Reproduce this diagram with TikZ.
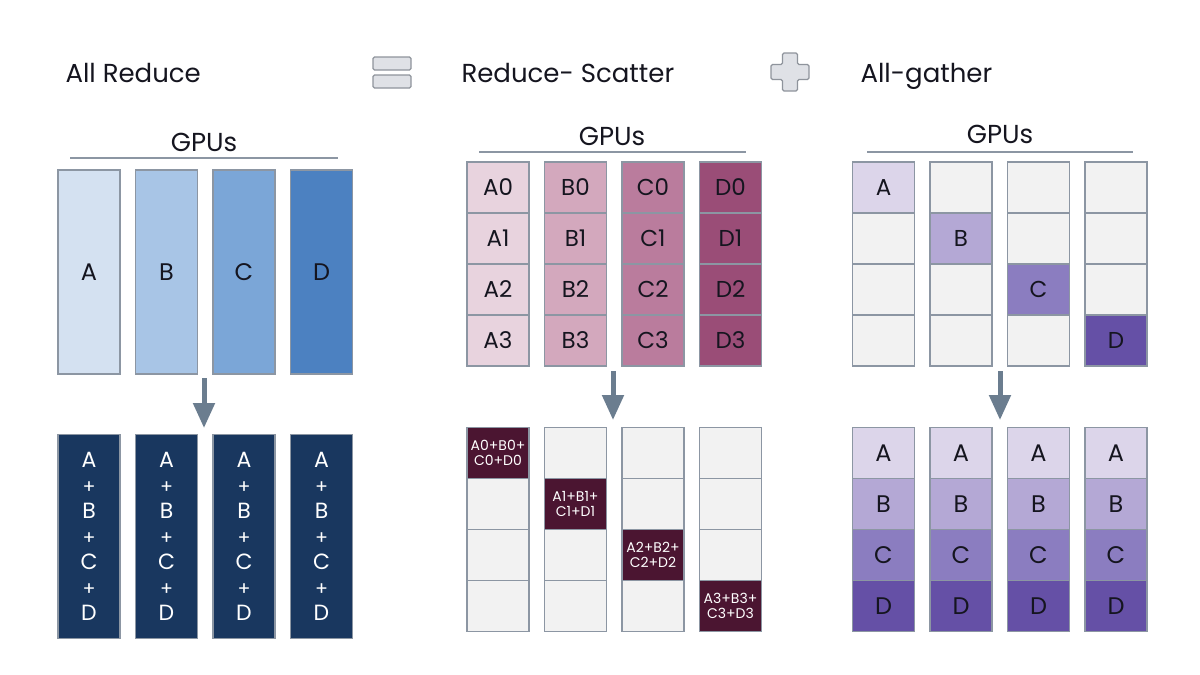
\documentclass[tikz,border=0pt]{standalone}
\usepackage{fontspec}
\setmainfont{Poppins}
\usetikzlibrary{arrows.meta}
\definecolor{edge}{HTML}{8C96A3}
\definecolor{empty}{HTML}{F2F2F2}
\definecolor{ink}{HTML}{15151F}
\definecolor{navy}{HTML}{19375F}
\definecolor{maroon}{HTML}{4B1531}
\definecolor{arrowgray}{HTML}{6B7D8F}
\definecolor{symfill}{HTML}{DFE1E6}
\definecolor{symedge}{HTML}{8F949C}
\definecolor{ar1}{HTML}{D4E1F1}
\definecolor{ar2}{HTML}{A8C5E6}
\definecolor{ar3}{HTML}{7BA6D7}
\definecolor{ar4}{HTML}{4C81C1}
\definecolor{rs1}{HTML}{E8D3DE}
\definecolor{rs2}{HTML}{D3A8BD}
\definecolor{rs3}{HTML}{BA7C9D}
\definecolor{rs4}{HTML}{9A4D77}
\definecolor{ag1}{HTML}{DCD5EA}
\definecolor{ag2}{HTML}{B4A8D5}
\definecolor{ag3}{HTML}{8B7DC0}
\definecolor{ag4}{HTML}{6550A6}
\newcommand{\sumplus}{{\fontsize{19}{25.5}\selectfont+}}

\begin{document}
\begin{tikzpicture}[x=1pt, y=-1pt, font=\fontsize{26}{30}\selectfont, text=ink,
  title/.style={anchor=base west, font=\fontsize{26}{30}\selectfont},
  gpus/.style={anchor=base},
  rule/.style={draw=edge, line width=1.4pt},
  bar/.style={draw=edge, line width=1.3pt, minimum width=62pt, minimum height=204pt, inner sep=0pt,
    font=\fontsize{24}{28}\selectfont},
  cell/.style={draw=edge, line width=1.3pt, fill=empty, minimum width=62pt, minimum height=51pt,
    inner sep=0pt, font=\fontsize{23}{27}\selectfont},
  sumcell/.style={cell, fill=maroon, text=white, align=center, font=\fontsize{14}{15}\selectfont},
  flow/.style={-{Triangle[width=21pt,length=25pt]}, line width=5pt, draw=arrowgray},
  sym/.style={fill=symfill, draw=symedge, line width=1.2pt, rounded corners=1.5pt}]
  \useasboundingbox[fill=white] (0,0) rectangle (1200,675);

  % titles and operators
  \node[title] (allreduce) at (62,82) {All Reduce};
  \node[title] (redscatter) at (458,82) {Reduce- Scatter};
  \node[title] (allgather) at (857,82) {All-gather};
  \draw[sym] (373,57) rectangle (411,70);
  \draw[sym] (373,75) rectangle (411,88);
  \draw[sym] (782.5,53) -- (797.5,53) -- (797.5,64.5) -- (809,64.5) -- (809,79.5) -- (797.5,79.5)
    -- (797.5,91) -- (782.5,91) -- (782.5,79.5) -- (771,79.5) -- (771,64.5) -- (782.5,64.5) -- cycle;

  % all reduce
  \node[gpus] (gpuL) at (204,151) {GPUs};
  \draw[rule] (70,158) -- (338,158);
  \foreach \l [count=\i] in {A,B,C,D} {
    \node[bar, fill=ar\i] (ar\l) at ({89+77.5*(\i-1)},272) {\l};
    \node[bar, fill=navy, text=white, align=center, font=\fontsize{22}{25.5}\selectfont]
      (arsum\l) at ({89+77.5*(\i-1)},536.5) {A\\\sumplus\\B\\\sumplus\\C\\\sumplus\\D};
  }
  \coordinate (arL-top) at (204,378);
  \coordinate (arL-bot) at (204,428);
  \draw[flow] (arL-top) -- (arL-bot);

  % reduce-scatter
  \node[gpus] (gpuM) at (612,145) {GPUs};
  \draw[rule] (479,152) -- (746,152);
  \foreach \c [count=\i] in {A,B,C,D}
    \foreach \r in {0,...,3}
      \node[cell, fill=rs\i] (rs\c\r) at ({498+77.5*(\i-1)},{187.5+51*\r}) {\c\r};
  \foreach \i in {1,...,4}
    \foreach \r in {1,...,4} {
      \ifnum\i=\r\else
        \node[cell] (rsout\i\r) at ({498+77.5*(\i-1)},{453+51*(\r-1)}) {};
      \fi
    }
  \node[sumcell] (red0) at (498,453) {A0+B0+\\C0+D0};
  \node[sumcell] (red1) at (575.5,504) {A1+B1+\\C1+D1};
  \node[sumcell] (red2) at (653,555) {A2+B2+\\C2+D2};
  \node[sumcell] (red3) at (730.5,606) {A3+B3+\\C3+D3};
  \coordinate (arM-top) at (613,371);
  \coordinate (arM-bot) at (613,420);
  \draw[flow] (arM-top) -- (arM-bot);

  % all-gather
  \node[gpus] (gpuR) at (1000,143) {GPUs};
  \draw[rule] (867,152) -- (1133,152);
  \foreach \i in {1,...,4}
    \foreach \r in {1,...,4} {
      \ifnum\i=\r\else
        \node[cell] (agin\i\r) at ({883.5+77.5*(\i-1)},{187.5+51*(\r-1)}) {};
      \fi
    }
  \node[cell, fill=ag1] (agA) at (883.5,187.5) {A};
  \node[cell, fill=ag2] (agB) at (961,238.5) {B};
  \node[cell, fill=ag3] (agC) at (1038.5,289.5) {C};
  \node[cell, fill=ag4] (agD) at (1116,340.5) {D};
  \foreach \i in {1,...,4}
    \foreach \l [count=\r] in {A,B,C,D}
      \node[cell, fill=ag\r, font=\fontsize{24}{28}\selectfont] (agout\i\l)
        at ({883.5+77.5*(\i-1)},{453+51*(\r-1)}) {\l};
  \coordinate (arR-top) at (1000,371);
  \coordinate (arR-bot) at (1000,420);
  \draw[flow] (arR-top) -- (arR-bot);
\end{tikzpicture}
\end{document}
